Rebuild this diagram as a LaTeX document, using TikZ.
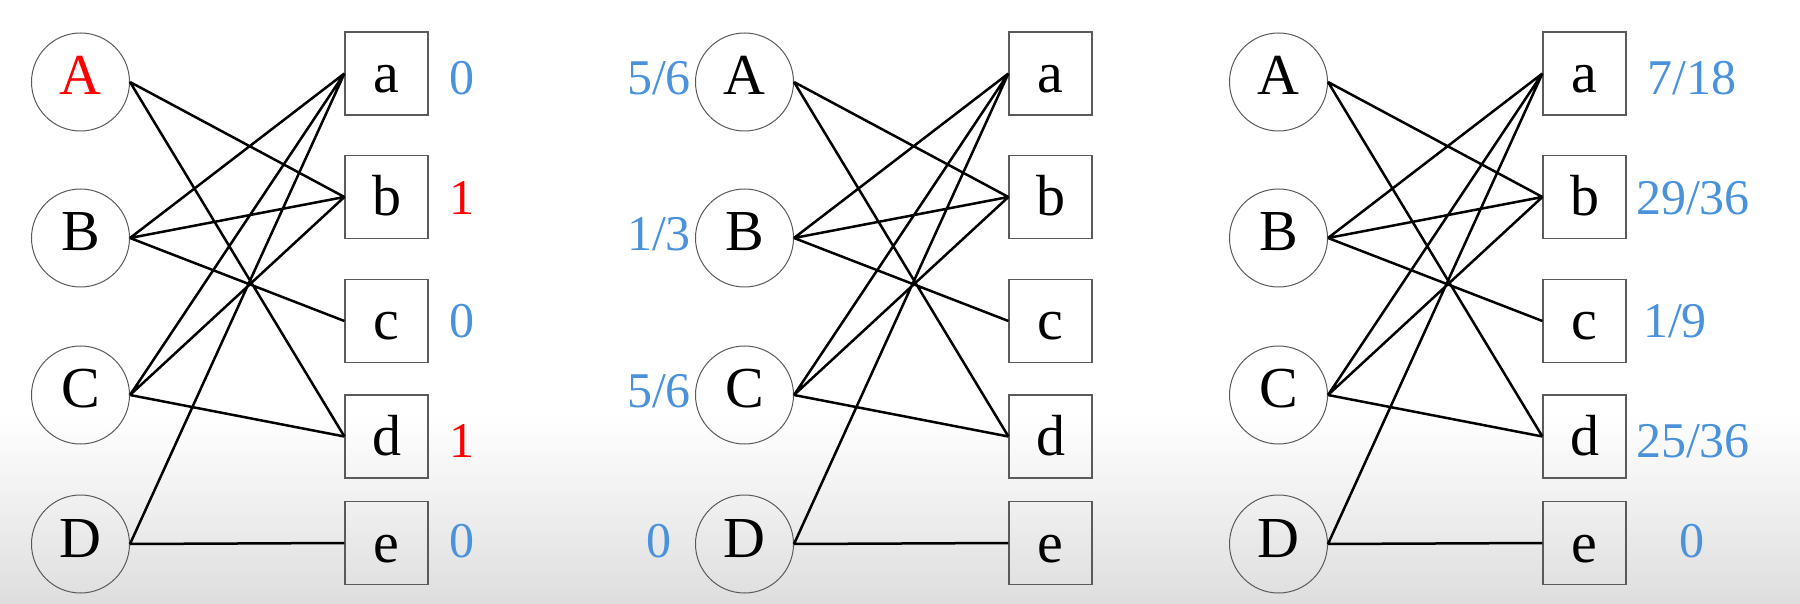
\documentclass[tikz,border=0pt]{standalone}
\usepackage{fontspec}
\setmainfont{Liberation Serif}
\usetikzlibrary{positioning}
\definecolor{valblue}{RGB}{74,146,220}
\definecolor{framegray}{RGB}{90,90,90}

\begin{document}
\begin{tikzpicture}[x=0.5pt,y=-0.5pt,semithick]
	\tikzstyle{lvert}=[draw=framegray,line width=0.5pt,circle,minimum size=49pt,inner sep=0pt,
		font=\rmfamily\fontsize{29}{30}\selectfont,text height=20pt,text depth=7pt]
	\tikzstyle{rvert}=[draw=framegray,line width=0.6pt,rectangle,minimum size=41.5pt,inner sep=0pt,
		font=\rmfamily\fontsize{29}{30}\selectfont,text height=20pt,text depth=1pt]
	\tikzstyle{score}=[anchor=base,inner sep=0pt,text=valblue,font=\rmfamily\fontsize{25}{26}\selectfont]
	\tikzstyle{link}=[draw,line width=1.25pt]

	% page and the grey band at the bottom
	\fill[white] (0,0) rectangle (1800,604);
	\shade[top color=white,bottom color=black!13] (0,415) rectangle (1800,604);
	\useasboundingbox (0,0) rectangle (1800,604);

	\foreach \g/\cx/\acol in {1/80.5/red, 2/744.5/black, 3/1278.5/black} {
		\node[lvert,text=\acol] (A\g) at (\cx,82)  {A};
		\node[lvert]            (B\g) at (\cx,238) {B};
		\node[lvert]            (C\g) at (\cx,395) {C};
		\node[lvert]            (D\g) at (\cx,544) {D};

		\node[rvert] (a\g) at (\cx+306,73.5) {a};
		\node[rvert] (b\g) at (\cx+306,197)  {b};
		\node[rvert] (c\g) at (\cx+306,321)  {c};
		\node[rvert] (d\g) at (\cx+306,436.5) {d};
		\node[rvert] (e\g) at (\cx+306,543)  {e};

		\draw[link] (A\g.east) -- (b\g.west)  (A\g.east) -- (d\g.west)
			(B\g.east) -- (a\g.west)  (B\g.east) -- (b\g.west)  (B\g.east) -- (c\g.west)
			(C\g.east) -- (a\g.west)  (C\g.east) -- (b\g.west)  (C\g.east) -- (d\g.west)
			(D\g.east) -- (a\g.west)  (D\g.east) -- (e\g.west);
	}

	% values, first graph
	\node[score]          (s1a) at (462,95)  {0};
	\node[score,text=red] (s1b) at (462,215) {1};
	\node[score]          (s1c) at (462,338) {0};
	\node[score,text=red] (s1d) at (462,457) {1};
	\node[score]          (s1e) at (462,557) {0};

	% values, second graph
	\node[score] (s2A) at (659,95)  {5/6};
	\node[score] (s2B) at (659,251) {1/3};
	\node[score] (s2C) at (659,408) {5/6};
	\node[score] (s2D) at (659,557) {0};

	% values, third graph
	\node[score] (s3a) at (1692,95)  {7/18};
	\node[score] (s3b) at (1693,215) {29/36};
	\node[score] (s3c) at (1675,338) {1/9};
	\node[score] (s3d) at (1693,457) {25/36};
	\node[score] (s3e) at (1692,557) {0};
\end{tikzpicture}
\end{document}
